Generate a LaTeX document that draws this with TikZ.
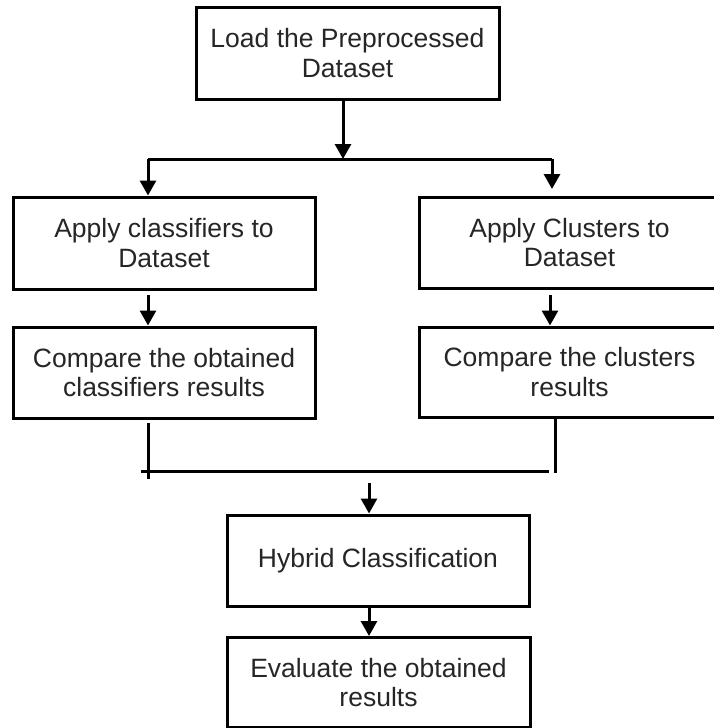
\documentclass[tikz,border=0pt]{standalone}
\usepackage{fontspec}
\setmainfont{Liberation Sans}
\usetikzlibrary{arrows.meta}
\begin{document}
\begin{tikzpicture}[x=1pt,y=-1pt,
  box/.style={draw, line width=3pt, align=center, inner sep=0pt,
    font=\fontsize{26.5}{29.5}\selectfont, text=black!85},
  conn/.style={line width=3pt},
  arr/.style={conn, -{Triangle[width=16pt,length=15pt]}}]
\useasboundingbox (0,0) rectangle (714,728);
\clip (0,0) rectangle (714,728);
\fill[white] (0,0) rectangle (714,728);
% boxes
\node[box, minimum width=303pt, minimum height=92pt] (top) at (347.5,53) {Load the Preprocessed\\Dataset};
\node[box, minimum width=302pt, minimum height=92pt] (lc1) at (164,243) {Apply classifiers to\\Dataset};
\node[box, minimum width=302pt, minimum height=91pt] (lc2) at (164,372.5) {Compare the obtained\\classifiers results};
\node[box, minimum width=301pt, minimum height=91pt] (rc1) at (569.5,242.5) {Apply Clusters to\\Dataset};
\node[box, minimum width=301pt, minimum height=90pt] (rc2) at (569.5,372) {Compare the clusters\\results};
\node[box, minimum width=302pt, minimum height=91pt] (hyb) at (378,560.5) {Hybrid Classification\vphantom{Ag}};
\node[box, minimum width=303pt, minimum height=90pt] (ev) at (378.5,682.5) {Evaluate the obtained\\results};
% split
\coordinate (j1) at (343,159);
\coordinate (jl) at (148,159);
\coordinate (jr) at (552,159);
\coordinate (rt) at (552,189);
\draw[arr] (top.south -| j1) -- (j1);
\draw[conn] (jl) -- (jr);
\draw[arr] (jl) -- (lc1.north -| jl);
\draw[arr] (jr) -- (rt);
% column arrows
\coordinate (la) at (148,295);
\coordinate (ra) at (550,295);
\draw[arr] (la) -- (lc2.north -| la);
\draw[arr] (ra) -- (rc2.north -| ra);
% merge
\coordinate (lv1) at (148,423);
\coordinate (lv2) at (148,479);
\coordinate (rv1) at (555,418);
\coordinate (rv2) at (555,473);
\coordinate (hl) at (141,471);
\coordinate (hr) at (549,471);
\draw[conn] (lv1) -- (lv2);
\draw[conn] (rv1) -- (rv2);
\draw[conn] (hl) -- (hr);
\coordinate (ha) at (369,483);
\draw[arr] (ha) -- (hyb.north -| ha);
\draw[arr] (hyb.south -| ha) -- (ev.north -| ha);
\end{tikzpicture}
\end{document}
